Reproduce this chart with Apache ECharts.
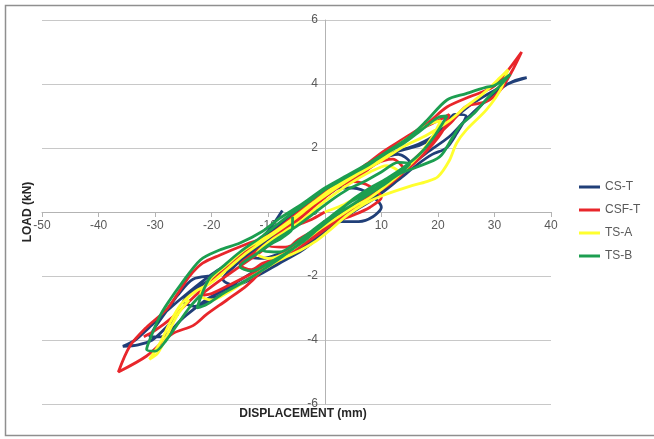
<!DOCTYPE html>
<html>
<head>
<meta charset="utf-8">
<script src="https://cdn.jsdelivr.net/npm/echarts@6/dist/echarts.min.js"></script>
<style>html,body{margin:0;padding:0;background:#fff;}#c{width:654px;height:439px;}</style>
</head>
<body>
<div id="c"></div>
<script>
var seriesNames = ['CS-T', 'CSF-T', 'TS-A', 'TS-B'];
var xTicks = [-50, -40, -30, -20, -10, 0, 10, 20, 30, 40];
var yTicks = [-6, -4, -2, 0, 2, 4, 6];

var CS_T = [
[-7.5,0.05],[-9,-0.35],[-10.5,-0.7],[-12,-1.1],[-13.5,-1.4],
[-11,-1.45],[-8,-1.3],[-5,-1.05],[-2,-0.75],[0,-0.45],[3,-0.3],[6,-0.3],[8.5,-0.15],[10,0.15],
[8,0.55],[5,0.75],[2,0.75],[-1,0.4],[-4,0.0],[-7,-0.45],[-10,-0.85],[-13,-1.25],[-16,-1.7],[-18,-2.1],
[-16,-2.3],[-12,-2.0],[-8,-1.6],[-4,-1.2],[0,-0.65],[4,-0.1],[8,0.4],[11,0.8],[13.5,1.2],[15,1.55],
[13,1.8],[10,1.65],[7,1.3],[4,1.0],[1,0.7],[-2,0.35],[-6,-0.15],[-10,-0.7],[-14,-1.3],[-18,-1.85],[-21,-2.2],[-23.5,-2.5],[-25,-2.8],
[-23,-2.95],[-19,-2.65],[-15,-2.25],[-10,-1.7],[-5,-1.2],[0,-0.6],[5,0.0],[9,0.45],[13,1.0],[16.5,1.5],[19,1.8],[21.5,2.0],[23.3,2.45],[25,3.0],
[23,3.05],[20.5,2.5],[17,2.1],[13,1.9],[9,1.6],[5,1.1],[1,0.6],[-3,0.1],[-7,-0.45],[-11,-1.0],[-15,-1.55],[-19,-1.95],[-23.3,-2.1],[-26,-2.6],[-28,-3.1],[-30,-3.6],[-31,-3.9],
[-29,-3.9],[-25,-3.3],[-21,-2.75],[-17,-2.35],[-12,-1.8],[-7,-1.25],[-2,-0.7],[2,-0.2],[6,0.25],[10,0.7],[14,1.3],[18,1.85],[22,2.35],[25,2.9],[28,3.4],[31,3.85],[33.5,4.1],[35.7,4.2],
[33,4.05],[30,3.8],[26.2,3.4],[22,2.8],[19,2.35],[15.6,2.05],[12,1.85],[8,1.4],[4,0.95],[0,0.55],[-4,0.05],[-8,-0.5],[-12,-1.0],[-16,-1.5],[-20,-1.95],[-24,-2.5],[-28,-3.1],[-31,-3.6],[-33.5,-4.0],[-35.7,-4.2],
[-33,-4.15],[-30.5,-4.0],[-28,-3.6],[-26,-3.2]
];

var CSF_T = [
[0,0],[-2,-0.2],[-4,-0.35],[-7,-0.55],[-9,-0.8],[-10,-1.05],
[-7,-1.1],[-4,-0.9],[-1,-0.6],[2,-0.3],[5,-0.1],[8,0.15],[10,0.45],
[8,0.8],[5,0.95],[2,0.75],[-1,0.4],[-4,-0.1],[-7,-0.5],[-10,-0.95],[-13,-1.35],[-15,-1.65],
[-13,-1.8],[-11,-1.6],[-8,-1.4],[-5,-0.9],[-2,-0.6],[1,-0.3],[4,0.0],[7,0.35],[10,0.7],[12,0.95],[14,1.3],
[12,1.65],[9,1.5],[6,1.1],[3,0.85],[0,0.45],[-3,0.0],[-7,-0.6],[-11,-1.2],[-15,-1.7],[-19,-2.2],[-22,-2.6],
[-20,-2.55],[-16,-2.2],[-12,-1.85],[-8,-1.5],[-4,-1.05],[0,-0.55],[4,0.0],[8,0.55],[12,1.0],[16,1.55],[19,2.1],[20.9,2.55],[22,3.05],
[20,2.85],[17,2.6],[14,2.3],[10,1.8],[7,1.45],[4,1.05],[1,0.75],[-2,0.35],[-6,-0.2],[-10,-0.75],[-13.8,-1.0],[-18.6,-1.35],[-21.6,-1.6],[-23.9,-2.0],[-26,-2.55],[-28,-3.05],[-31.5,-3.6],[-34.5,-4.2],[-36.5,-5.0],
[-31.5,-4.5],[-26.9,-3.8],[-23.3,-3.55],[-20.9,-3.2],[-17.3,-2.75],[-13.8,-2.3],[-11.5,-1.9],[-10.5,-1.65],[-7,-1.25],[-3,-0.8],[1,-0.3],[5,0.2],[9,0.65],[13,1.2],[17,1.85],[20,2.4],[22.7,2.87],[25,3.3],[28.6,3.45],[31,3.8],[33.2,4.43],[34.8,5.0],
[32,4.34],[29.7,3.9],[25.6,3.6],[21.6,3.28],[18,2.75],[14,2.3],[10,1.85],[6,1.3],[2,0.85],[-2,0.3],[-6,-0.25],[-10,-0.75],[-14,-1.25],[-18,-1.85],[-21,-2.3],[-24,-2.8],[-27,-3.3],[-30,-3.7],[-32,-3.9]
];

var TS_A = [
[0,0],[3,0.2],[6,0.5],[9,0.8],[11.5,1.0],[13,1.25],
[11,1.45],[8,1.25],[5,0.95],[2,0.6],[-1,0.2],[-4,-0.25],[-7,-0.6],[-10,-0.95],[-12,-1.3],
[-10,-1.45],[-7,-1.3],[-4,-0.95],[-1,-0.55],[2,-0.2],[5,0.15],[8,0.45],[11,0.85],[14,1.3],[17,1.85],[19,2.35],[20.5,2.85],
[18.5,2.75],[16,2.45],[13,2.1],[10,1.65],[7,1.35],[4,1.05],[1,0.7],[-2,0.3],[-6,-0.25],[-10,-0.75],[-14,-1.15],[-17,-1.6],[-20,-2.05],[-22,-2.6],
[-20,-2.75],[-17,-2.5],[-14,-2.15],[-12.7,-2.0],[-8,-1.5],[-4.4,-1.2],[-1.5,-0.9],[1,-0.55],[4,-0.1],[7,0.25],[10,0.5],[15,0.8],[18,0.95],[20,1.1],[22,1.6],[23.3,2.15],[25,2.56],[28.6,3.2],[31,3.8],[32.4,4.45],
[31,4.2],[28,3.7],[25,3.3],[22,2.85],[18,2.4],[14,2.05],[10,1.6],[6,1.2],[2,0.75],[-2,0.25],[-6,-0.3],[-10,-0.8],[-14,-1.3],[-17,-1.75],[-20,-2.2],[-23,-2.5],[-25.5,-2.9],[-27.5,-3.5],[-29,-4.05],[-31,-4.6],
[-29.5,-4.4],[-28,-3.9],[-26,-3.2],[-24,-2.75]
];

var TS_B = [
[-5.7,-0.15],[-5.7,-0.5],[-7.5,-0.8],[-9.5,-1.0],[-11,-1.2],
[-8,-1.25],[-5,-0.95],[-2,-0.55],[1,-0.15],[4,0.25],[7,0.55],[10,0.85],[12.5,1.15],[15,1.5],
[13,1.55],[10,1.25],[7,0.95],[4,0.7],[1,0.35],[-2,-0.05],[-5,-0.45],[-9,-0.9],[-12,-1.3],[-15,-1.7],
[-13,-1.85],[-10,-1.6],[-7,-1.3],[-4,-0.95],[-1,-0.5],[2,-0.05],[5,0.4],[8,0.75],[11,1.05],[14,1.4],[17,1.85],[19.5,2.4],[21.6,3.0],
[20,2.95],[17,2.55],[14,2.15],[11,1.85],[8,1.5],[5,1.2],[2,0.9],[0,0.7],[-3,0.3],[-7,-0.2],[-11,-0.75],[-15,-1.25],[-18,-1.7],[-20.5,-2.1],[-22.6,-3.0],
[-21,-2.9],[-18,-2.55],[-14,-2.15],[-10,-1.7],[-6,-1.2],[-2,-0.65],[2,-0.1],[6,0.35],[10,0.8],[13.3,1.2],[16.2,1.4],[20.3,1.72],[22.5,2.3],[24,2.7],[26.5,3.1],[29,3.6],[31,3.95],[32.8,4.3],
[30,3.95],[28.6,3.9],[25,3.7],[21.6,3.5],[18,2.85],[15,2.35],[12,2.0],[8,1.55],[4,1.15],[0,0.75],[-4,0.25],[-8,-0.2],[-11,-0.6],[-15,-0.97],[-18.6,-1.19],[-22,-1.5],[-25.6,-2.3],[-27.4,-2.75],[-29,-3.2],[-30.5,-3.8],[-31.5,-4.3],
[-30,-4.35],[-28,-4.0],[-26,-3.5],[-24,-3.0],[-22,-2.6]
];

var seriesData = [CS_T, CSF_T, TS_A, TS_B];
var colors = ['#203F78', '#E8262B', '#FFFF2E', '#1C9E50'];

var chart = echarts.init(document.getElementById('c'), null, {renderer: 'canvas'});
var font = "'Liberation Sans', Arial, sans-serif";
chart.setOption({
  animation: false,
  backgroundColor: '#ffffff',
  color: colors,
  grid: {left: 42, right: 103, top: 20, bottom: 35, containLabel: false},
  legend: {
    data: seriesNames,
    orient: 'vertical',
    left: 574,
    top: 176,
    itemWidth: 21,
    itemHeight: 3,
    itemGap: 11,
    icon: 'rect',
    textStyle: {fontFamily: font, fontSize: 12, color: '#595959'}
  },
  xAxis: {
    type: 'value',
    position: 'bottom',
    offset: -192,
    min: xTicks[0],
    max: xTicks[xTicks.length - 1],
    interval: 10,
    axisLine: {onZero: false, lineStyle: {color: '#b3b3b3', width: 1}},
    axisTick: {show: true, length: 5, lineStyle: {color: '#b3b3b3'}},
    axisLabel: {fontFamily: font, fontSize: 12, color: '#595959', margin: 8, showMinLabel: true, showMaxLabel: true},
    splitLine: {show: false}
  },
  yAxis: {
    type: 'value',
    position: 'left',
    offset: -283,
    min: yTicks[0],
    max: yTicks[yTicks.length - 1],
    interval: 2,
    axisLine: {show: true, onZero: false, lineStyle: {color: '#b3b3b3', width: 1}},
    axisTick: {show: false},
    axisLabel: {fontFamily: font, fontSize: 12, color: '#595959', margin: 7},
    splitLine: {show: true, lineStyle: {color: '#c8c8c8', width: 1}}
  },
  graphic: [
    {type: 'rect', shape: {x: 5.5, y: 5.5, width: 700, height: 430}, style: {fill: 'none', stroke: '#8f8f8f', lineWidth: 1.5}, z: -1, silent: true},
    {type: 'text', x: 28, y: 212, rotation: Math.PI / 2, style: {text: 'LOAD (kN)', fontFamily: font, fontSize: 12, fontWeight: 'bold', fill: '#262626', align: 'center', verticalAlign: 'middle'}},
    {type: 'text', x: 303, y: 414, style: {text: 'DISPLACEMENT (mm)', fontFamily: font, fontSize: 12, fontWeight: 'bold', fill: '#262626', align: 'center', verticalAlign: 'middle'}}
  ],
  series: seriesNames.map(function (n, i) {
    return {
      name: n,
      type: 'line',
      data: seriesData[i],
      smooth: 0.3,
      showSymbol: false,
      symbol: 'none',
      lineStyle: {width: 2.8, color: colors[i]},
      itemStyle: {color: colors[i]},
      z: 2 + i
    };
  })
});
</script>
</body>
</html>
